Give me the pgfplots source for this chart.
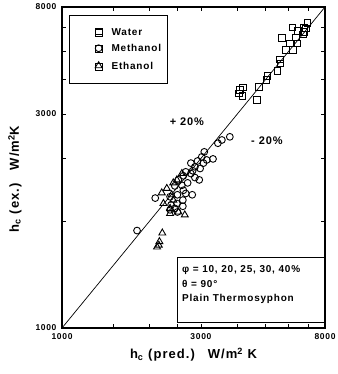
\documentclass[border=0pt]{standalone}
\usepackage{fontspec}
\setmainfont{Liberation Sans}
\newfontfamily\spfont{Liberation Sans}[LetterSpace=8]
\usepackage{pgfplots}
\pgfplotsset{compat=1.18}
\begin{document}
\begin{tikzpicture}
\begin{axis}[
  scale only axis, width=263pt, height=321pt,
  xmode=log, ymode=log,
  xmin=1000, xmax=8000, ymin=1000, ymax=8000,
  xtick={1000,1500,2000,2500,3000,4000,5000,6000,7000,8000},
  xticklabels={1000,,,,3000,,,,,8000},
  ytick={1000,2000,3000,4000,5000,6000,7000,8000},
  yticklabels={1000,,,3000,,,,8000},
  minor xtick={}, minor ytick={},
  tick align=inside, major tick length=4pt,
  tick style={line width=0.9pt, black},
  axis line style={line width=1.3pt},
  ticklabel style={font=\spfont\bfseries\fontsize{8.5}{9}\selectfont},
  xticklabel style={yshift=-2pt},
  yticklabel style={xshift=-2pt},
  xlabel={h\textsubscript{c} (pred.)\quad W/m\textsuperscript{2} K},
  ylabel={h\textsubscript{c} (ex.)\quad W/m\textsuperscript{2}K},
  label style={font=\spfont\bfseries\fontsize{13}{14}\selectfont},
  xlabel style={at={(rel axis cs:0.5,-0.084)}, anchor=center},
  ylabel style={at={(rel axis cs:-0.179,0.464)}, anchor=center},
  legend style={at={(rel axis cs:0.1236,0.935)}, anchor=north west,
    draw=none, fill=none, inner sep=0pt, row sep=7.8pt,
    font=\spfont\bfseries\fontsize{10}{11}\selectfont,
    nodes={inner xsep=0pt, inner ysep=0pt, text height=7pt, text depth=2pt},
    /tikz/every odd column/.append style={column sep=9pt}},
  legend cell align=left,
  legend image code/.code={\path (0pt,-3.5pt) rectangle (7pt,3.5pt);
    \draw[#1] plot coordinates {(3.5pt,1.2pt)};},
]
\addplot[black, line width=0.7pt, forget plot] coordinates {(1000,1000) (8000,8000)};

\addplot[only marks, mark=square, mark size=3.3pt, line width=0.9pt, black] coordinates {
(6970,7220) (6880,6970) (6770,6810) (6710,6700) (6180,7010) (5680,6550)
(6360,6570) (6440,6320) (6060,6320) (5880,6050) (6220,6050) (5600,5700)
(5630,5550) (5490,5290) (5070,5110) (5040,4980) (4750,4770) (4190,4750)
(4080,4670) (4170,4500) (4060,4570) (4680,4380) (6770,6980) (6460,6850)
};
\addlegendentry{Water}

\addplot[only marks, mark=o, mark size=3.4pt, line width=0.9pt, black] coordinates {
(3770,3450) (3540,3380) (3430,3310) (3300,2990) (3080,3130) (3020,3030)
(3140,2970) (2920,2950) (3060,2910) (2770,2910) (2860,2840) (2980,2810)
(2810,2770) (2660,2750) (2770,2720) (2610,2680) (2860,2650) (2960,2610)
(2510,2610) (2700,2560) (2580,2520) (2440,2510) (2610,2440) (2800,2370)
(2660,2390) (2490,2370) (2350,2340) (2090,2320) (2600,2290) (2480,2240)
(2370,2220) (2440,2170) (2600,2200) (2350,2150) (2490,2120) (1810,1880)
};
\addlegendentry{Methanol}

\addplot[only marks, mark=triangle, mark size=4pt, line width=0.9pt, black] coordinates {
(2580,2720) (2480,2610) (2410,2560) (2290,2470) (2200,2400) (2380,2370)
(2410,2290) (2230,2240) (2350,2170) (2510,2120) (2350,2100) (2640,2080)
(2210,1850) (2160,1750) (2120,1690) (2150,1710)
};
\addlegendentry{Ethanol}

\draw[line width=0.8pt] (rel axis cs:0.0266,0.763) rectangle (rel axis cs:0.399,0.975);
\draw[line width=0.8pt, fill=white] (rel axis cs:0.437,0.0187) rectangle (rel axis cs:0.996,0.221);
\node[anchor=west, inner sep=0pt, font=\spfont\bfseries\fontsize{10}{11}\selectfont] at (rel axis cs:0.456,0.181) {φ = 10, 20, 25, 30, 40\%};
\node[anchor=west, inner sep=0pt, font=\spfont\bfseries\fontsize{10}{11}\selectfont] at (rel axis cs:0.456,0.137) {θ = 90°};
\node[anchor=west, inner sep=0pt, font=\spfont\bfseries\fontsize{10}{11}\selectfont] at (rel axis cs:0.456,0.090) {Plain Thermosyphon};
\node[inner sep=0pt, font=\spfont\bfseries\fontsize{11}{12}\selectfont] at (rel axis cs:0.475,0.642) {+ 20\%};
\node[inner sep=0pt, font=\spfont\bfseries\fontsize{11}{12}\selectfont] at (rel axis cs:0.779,0.583) {- 20\%};
\end{axis}
\pgfresetboundingbox
\path[use as bounding box] ([shift={(-62pt,-46pt)}]current axis.south west) rectangle ([shift={(12pt,7pt)}]current axis.north east);
\end{tikzpicture}
\end{document}
